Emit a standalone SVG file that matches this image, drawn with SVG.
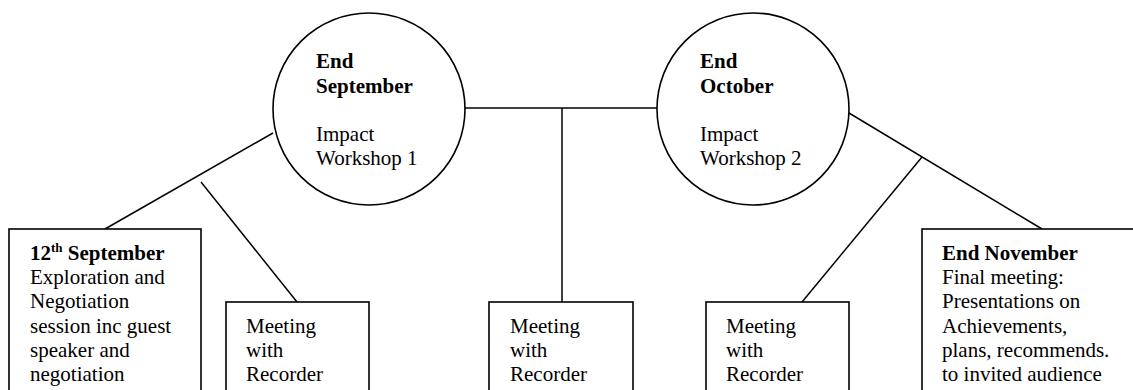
<svg xmlns="http://www.w3.org/2000/svg" width="1133" height="390" viewBox="0 0 1133 390">
<style>
.s{fill:#fff;stroke:#000;stroke-width:1.6}
.c line{stroke:#000;stroke-width:1.5}
text{font-family:"Liberation Serif","Times New Roman",serif;font-size:21px;fill:#000}
.b{font-weight:bold}
.sup{font-size:13px;font-weight:bold}
</style>
<rect width="1133" height="390" fill="#fff"/>
<g class="c" id="connectors">
<line x1="465" y1="108" x2="657" y2="108"/>
<line x1="562" y1="108" x2="562" y2="302"/>
<line x1="273" y1="133" x2="105" y2="229"/>
<line x1="201" y1="182" x2="297" y2="302"/>
<line x1="849" y1="113" x2="1042" y2="229"/>
<line x1="922" y1="157" x2="802" y2="302"/>
</g>
<g id="n-endsep">
<circle class="s" cx="369" cy="109" r="96"/>
<text x="316" y="68" class="b">End</text>
<text x="316" y="93" class="b">September</text>
<text x="316" y="141">Impact</text>
<text x="316" y="165">Workshop 1</text>
</g>
<g id="n-endoct">
<circle class="s" cx="753" cy="109" r="96"/>
<text x="700" y="68" class="b">End</text>
<text x="700" y="93" class="b">October</text>
<text x="700" y="141">Impact</text>
<text x="700" y="165">Workshop 2</text>
</g>
<g id="n-12sep">
<rect class="s" x="9" y="229" width="192" height="170"/>
<text x="30" y="260" class="b">12<tspan class="sup" dy="-8">th</tspan><tspan dy="8"> September</tspan></text>
<text x="30" y="284">Exploration and</text>
<text x="30" y="308">Negotiation</text>
<text x="30" y="333">session inc guest</text>
<text x="30" y="357">speaker and</text>
<text x="30" y="381">negotiation</text>
</g>
<g id="n-meet1">
<rect class="s" x="226" y="302" width="143" height="100"/>
<text x="246" y="333">Meeting</text>
<text x="246" y="357">with</text>
<text x="246" y="381">Recorder</text>
</g>
<g id="n-meet2">
<rect class="s" x="489" y="302" width="144" height="100"/>
<text x="510" y="333">Meeting</text>
<text x="510" y="357">with</text>
<text x="510" y="381">Recorder</text>
</g>
<g id="n-meet3">
<rect class="s" x="706" y="302" width="143" height="100"/>
<text x="726" y="333">Meeting</text>
<text x="726" y="357">with</text>
<text x="726" y="381">Recorder</text>
</g>
<g id="n-endnov">
<rect class="s" x="922" y="229" width="220" height="170"/>
<text x="942" y="260" class="b">End November</text>
<text x="942" y="284">Final meeting:</text>
<text x="942" y="308">Presentations on</text>
<text x="942" y="333">Achievements,</text>
<text x="942" y="357">plans, recommends.</text>
<text x="942" y="381">to invited audience</text>
</g>
</svg>
